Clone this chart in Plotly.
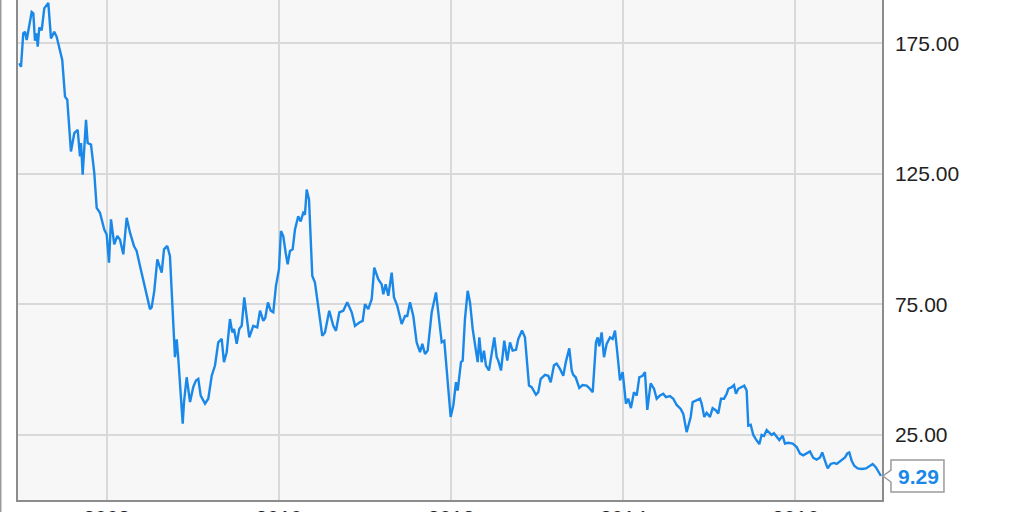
import plotly.graph_objects as go

# decimal year of each observation
years = [
    2006.985, 2007.005, 2007.031, 2007.051, 2007.071, 2007.089, 2007.129, 2007.148, 2007.167, 2007.187,
    2007.199, 2007.217, 2007.245, 2007.275, 2007.322, 2007.353, 2007.391, 2007.419, 2007.458, 2007.484,
    2007.516, 2007.542, 2007.585, 2007.624, 2007.663, 2007.690, 2007.702, 2007.721, 2007.760, 2007.779,
    2007.818, 2007.856, 2007.884, 2007.922, 2007.972, 2008.000, 2008.027, 2008.050, 2008.088, 2008.123,
    2008.154, 2008.193, 2008.232, 2008.271, 2008.317, 2008.348, 2008.387, 2008.445, 2008.503, 2008.523,
    2008.553, 2008.588, 2008.639, 2008.666, 2008.704, 2008.735, 2008.774, 2008.793, 2008.813, 2008.832,
    2008.883, 2008.898, 2008.929, 2008.968, 2009.006, 2009.037, 2009.064, 2009.092, 2009.142, 2009.180,
    2009.220, 2009.258, 2009.296, 2009.336, 2009.362, 2009.394, 2009.432, 2009.459, 2009.479, 2009.510,
    2009.540, 2009.568, 2009.598, 2009.626, 2009.656, 2009.703, 2009.749, 2009.781, 2009.819, 2009.842,
    2009.873, 2009.905, 2009.935, 2009.966, 2010.001, 2010.024, 2010.051, 2010.079, 2010.102, 2010.129,
    2010.160, 2010.187, 2010.225, 2010.253, 2010.283, 2010.303, 2010.323, 2010.350, 2010.388, 2010.419,
    2010.439, 2010.469, 2010.504, 2010.535, 2010.585, 2010.632, 2010.663, 2010.702, 2010.748, 2010.794,
    2010.846, 2010.884, 2010.934, 2010.973, 2011.000, 2011.038, 2011.078, 2011.108, 2011.154, 2011.194,
    2011.213, 2011.240, 2011.271, 2011.310, 2011.337, 2011.375, 2011.426, 2011.465, 2011.491, 2011.523,
    2011.561, 2011.600, 2011.639, 2011.666, 2011.697, 2011.728, 2011.775, 2011.825, 2011.851, 2011.891,
    2011.921, 2011.956, 2011.995, 2012.026, 2012.057, 2012.077, 2012.115, 2012.135, 2012.161, 2012.193,
    2012.220, 2012.251, 2012.286, 2012.309, 2012.328, 2012.355, 2012.382, 2012.405, 2012.440, 2012.472,
    2012.502, 2012.530, 2012.548, 2012.580, 2012.618, 2012.653, 2012.684, 2012.715, 2012.754, 2012.781,
    2012.824, 2012.858, 2012.905, 2012.936, 2012.986, 2013.013, 2013.041, 2013.091, 2013.129, 2013.157,
    2013.195, 2013.226, 2013.265, 2013.303, 2013.334, 2013.373, 2013.401, 2013.419, 2013.447, 2013.489,
    2013.528, 2013.575, 2013.605, 2013.645, 2013.683, 2013.703, 2013.721, 2013.749, 2013.776, 2013.807,
    2013.846, 2013.877, 2013.904, 2013.930, 2013.962, 2013.993, 2014.031, 2014.058, 2014.089, 2014.124,
    2014.156, 2014.186, 2014.225, 2014.252, 2014.279, 2014.318, 2014.357, 2014.388, 2014.426, 2014.465,
    2014.496, 2014.542, 2014.581, 2014.620, 2014.667, 2014.697, 2014.736, 2014.767, 2014.783, 2014.806,
    2014.844, 2014.891, 2014.911, 2014.941, 2014.969, 2015.007, 2015.038, 2015.077, 2015.103, 2015.135,
    2015.170, 2015.201, 2015.220, 2015.259, 2015.286, 2015.309, 2015.336, 2015.375, 2015.405, 2015.433,
    2015.452, 2015.480, 2015.510, 2015.541, 2015.580, 2015.607, 2015.634, 2015.666, 2015.696, 2015.724,
    2015.750, 2015.782, 2015.812, 2015.851, 2015.878, 2015.916, 2015.968, 2016.014, 2016.052, 2016.091,
    2016.130, 2016.168, 2016.207, 2016.246, 2016.285, 2016.311, 2016.343, 2016.374, 2016.409, 2016.447,
    2016.479, 2016.509, 2016.548, 2016.575, 2016.602, 2016.625, 2016.653, 2016.683, 2016.722, 2016.769,
    2016.819, 2016.865, 2016.897, 2016.935, 2016.973, 2016.993,
]

prices = [
    167.4, 166.0, 178.8, 179.4, 176.3, 179.4, 187.0, 186.5, 176.0, 178.8,
    173.7, 181.0, 180.0, 188.4, 190.5, 176.9, 179.4, 177.5, 172.4, 168.6,
    154.6, 153.4, 133.6, 140.6, 141.9, 131.7, 136.8, 124.7, 145.7, 136.8,
    136.2, 125.4, 112.0, 110.1, 103.7, 101.8, 91.0, 107.6, 98.0, 101.2,
    99.9, 94.2, 108.2, 102.5, 97.4, 95.5, 89.7, 80.8, 73.2, 73.9,
    80.2, 92.3, 87.2, 96.1, 97.4, 93.5, 64.3, 54.8, 61.6, 54.1,
    29.3, 37.6, 47.1, 37.6, 43.4, 45.9, 46.5, 40.1, 37.0, 38.9,
    47.7, 51.6, 60.5, 61.8, 52.9, 56.7, 69.4, 64.3, 65.6, 59.9,
    65.6, 66.8, 77.7, 69.4, 62.4, 66.8, 66.2, 72.6, 68.7, 69.9,
    75.8, 72.6, 72.0, 82.1, 88.5, 103.1, 101.2, 94.8, 90.4, 95.5,
    96.1, 103.7, 108.8, 106.8, 110.1, 109.4, 119.0, 115.2, 85.9, 83.4,
    78.3, 72.0, 63.0, 64.3, 72.6, 66.8, 64.9, 72.0, 72.6, 75.8,
    72.0, 66.8, 68.1, 68.7, 75.1, 73.2, 77.0, 89.1, 84.7, 82.7,
    78.9, 82.7, 78.3, 87.2, 77.7, 74.5, 67.5, 70.6, 70.6, 75.8,
    70.6, 60.5, 56.7, 59.9, 56.0, 57.3, 72.0, 79.6, 72.0, 60.5,
    61.1, 46.5, 31.9, 36.3, 45.2, 42.0, 52.9, 53.5, 69.4, 80.2,
    75.8, 65.6, 58.6, 52.9, 62.4, 52.9, 57.3, 51.6, 49.7, 56.7,
    62.4, 54.8, 53.5, 49.7, 61.1, 53.5, 60.5, 57.3, 57.6, 61.8,
    65.0, 62.4, 43.9, 43.3, 40.4, 41.4, 46.5, 48.0, 47.7, 45.2,
    51.7, 52.3, 50.3, 47.7, 53.1, 58.2, 49.7, 48.0, 47.1, 43.0,
    44.1, 43.9, 43.0, 41.4, 60.5, 62.4, 59.0, 64.3, 54.8, 59.9,
    62.4, 61.8, 65.0, 56.7, 45.9, 49.1, 37.0, 38.9, 35.3, 41.4,
    40.1, 47.1, 47.7, 49.1, 34.6, 44.8, 42.7, 38.9, 40.1, 40.8,
    39.5, 39.9, 38.9, 36.5, 35.0, 33.1, 26.1, 29.9, 31.9, 37.6,
    38.3, 38.9, 36.9, 31.9, 33.5, 31.9, 35.3, 34.4, 33.2, 38.9,
    38.9, 40.8, 42.7, 43.3, 44.1, 40.8, 42.7, 43.3, 43.9, 42.0,
    28.6, 28.9, 25.0, 23.3, 21.5, 25.0, 24.6, 26.9, 25.9, 25.0,
    25.7, 24.2, 23.1, 24.7, 21.7, 22.0, 21.7, 20.4, 17.9, 17.2,
    17.9, 18.7, 16.2, 15.6, 16.4, 18.3, 15.1, 12.2, 13.9, 14.3,
    13.9, 14.8, 15.8, 16.4, 17.9, 18.3, 15.1, 13.2, 12.2, 12.0,
    12.2, 13.2, 13.9, 12.6, 10.4, 9.29,
]

x_tick_values = [2008, 2010, 2012, 2014, 2016]
x_tick_labels = ["2008", "2010", "2012", "2014", "2016"]
y_tick_values = [25, 75, 125, 175]
y_tick_labels = ["25.00", "75.00", "125.00", "175.00"]

LINE_BLUE = "#1a88e8"
FONT = "Liberation Sans, Arial, sans-serif"

fig = go.Figure()
fig.add_trace(go.Scatter(
    x=years, y=prices, mode="lines",
    line=dict(color=LINE_BLUE, width=2.4),
    hoverinfo="skip", showlegend=False,
))

last_x, last_y = years[-1], prices[-1]

# callout box with a notch pointing at the last value
fig.add_shape(
    type="path", xref="paper", yref="y",
    xsizemode="pixel", ysizemode="pixel",
    xanchor=0.9988, yanchor=last_y,
    path="M 2,0 L 10,6 L 10,16 L 63,16 L 63,-16 L 10,-16 L 10,-6 Z",
    fillcolor="white", line=dict(color="#9a9a9a", width=1.5),
    layer="above",
)
fig.add_annotation(
    x=last_x, y=last_y, xref="x", yref="y",
    text="<b>%.2f</b>" % last_y, showarrow=False,
    xanchor="center", yanchor="middle", xshift=38, yshift=0,
    font=dict(family=FONT, size=21, color=LINE_BLUE),
)

# outer frame line at far left of the image
fig.add_shape(
    type="line", xref="paper", yref="paper",
    x0=-0.0200, x1=-0.0200, y0=-0.03, y1=1.0,
    line=dict(color="#9a9a9a", width=1.5),
)

fig.update_layout(
    template="none",
    width=1024, height=512,
    margin=dict(l=18, r=142, t=0, b=12, autoexpand=False),
    paper_bgcolor="white",
    plot_bgcolor="#f7f7f7",
    showlegend=False,
    font=dict(family=FONT, size=21, color="#222222"),
)
fig.update_xaxes(
    range=[2006.970, 2017.005],
    tickvals=x_tick_values, ticktext=x_tick_labels,
    showgrid=True, gridcolor="#d9d9d9", gridwidth=1.5,
    zeroline=False, ticks="", ticklabelstandoff=-2,
    showline=True, linecolor="#8c8c8c", linewidth=1.5,
    automargin=False,
    tickfont=dict(family=FONT, size=21, color="#222222"),
)
fig.update_yaxes(
    range=[0.1, 191.6], side="right",
    tickvals=y_tick_values, ticktext=y_tick_labels,
    showgrid=True, gridcolor="#d9d9d9", gridwidth=1.5,
    zeroline=False, ticks="", ticklabelstandoff=7,
    showline=True, mirror=True, linecolor="#8c8c8c", linewidth=1.5,
    automargin=False,
    tickfont=dict(family=FONT, size=21, color="#222222"),
)

fig.write_html(
    "out.html",
    config={"displayModeBar": False},
    post_script="document.body.style.margin='0';document.body.style.overflow='hidden';",
)
